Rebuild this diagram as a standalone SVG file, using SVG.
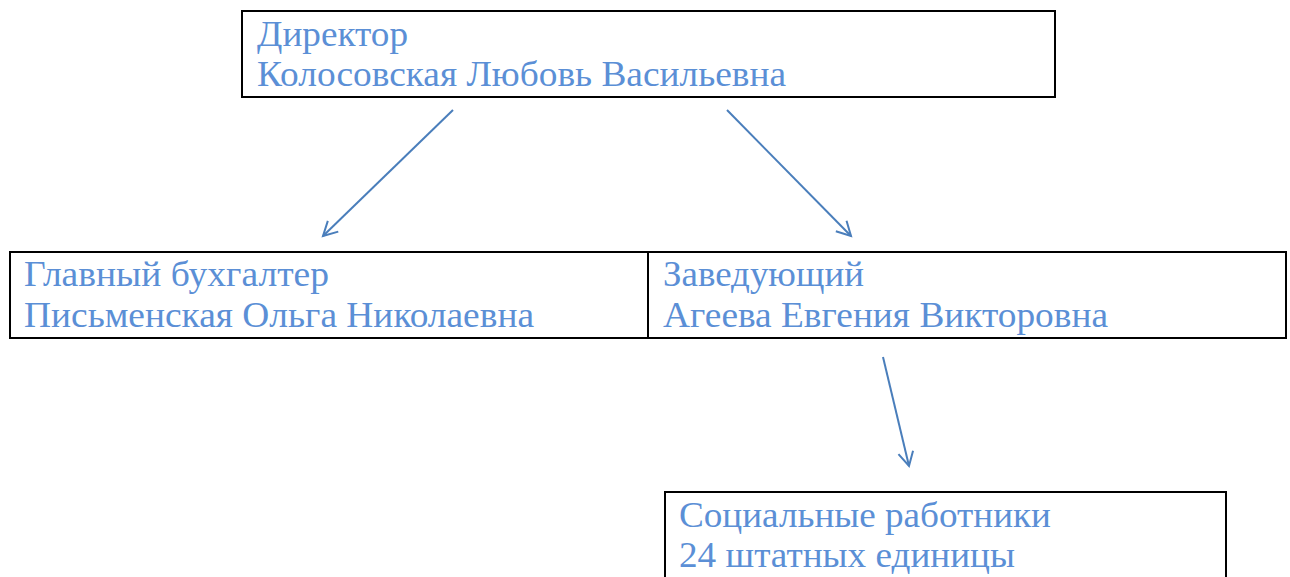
<svg xmlns="http://www.w3.org/2000/svg" width="1290" height="577" viewBox="0 0 1290 577">
<style>
.box{fill:#fff;stroke:#000;stroke-width:2}
.t{font-family:"Liberation Serif","Times New Roman",serif;font-size:36px;fill:#5B8FD6}
.c{stroke:#4A7EBB;stroke-width:2;fill:none}
</style>
<defs>
<marker id="ah" markerWidth="18" markerHeight="18" refX="15" refY="9" orient="auto" markerUnits="userSpaceOnUse">
<path d="M1,1.5 L15,9 L1,16.5" fill="none" stroke="#4A7EBB" stroke-width="2"/>
</marker>
</defs>
<rect width="1290" height="577" fill="#fff"/>
<g id="director">
<rect class="box" x="242" y="11" width="813" height="86"/>
<text class="t" x="257" y="46" textLength="151" lengthAdjust="spacingAndGlyphs">Директор</text>
<text class="t" x="257" y="86" textLength="529" lengthAdjust="spacingAndGlyphs">Колосовская Любовь Васильевна</text>
</g>
<g id="accountant">
<rect class="box" x="10" y="252" width="638" height="86"/>
<text class="t" x="24" y="286" textLength="305" lengthAdjust="spacingAndGlyphs">Главный бухгалтер</text>
<text class="t" x="24" y="327" textLength="510" lengthAdjust="spacingAndGlyphs">Письменская Ольга Николаевна</text>
</g>
<g id="manager">
<rect class="box" x="648" y="252" width="638" height="86"/>
<text class="t" x="663" y="286" textLength="201" lengthAdjust="spacingAndGlyphs">Заведующий</text>
<text class="t" x="663" y="327" textLength="445" lengthAdjust="spacingAndGlyphs">Агеева Евгения Викторовна</text>
</g>
<g id="workers">
<rect class="box" x="665" y="492" width="561" height="100"/>
<text class="t" x="679" y="527" textLength="372" lengthAdjust="spacingAndGlyphs">Социальные работники</text>
<text class="t" x="679" y="567" textLength="336" lengthAdjust="spacingAndGlyphs">24 штатных единицы</text>
</g>
<g id="connectors">
<line class="c" x1="453" y1="110" x2="323" y2="236" marker-end="url(#ah)"/>
<line class="c" x1="727" y1="110" x2="851" y2="236" marker-end="url(#ah)"/>
<line class="c" x1="883" y1="357" x2="909" y2="466" marker-end="url(#ah)"/>
</g>
</svg>
